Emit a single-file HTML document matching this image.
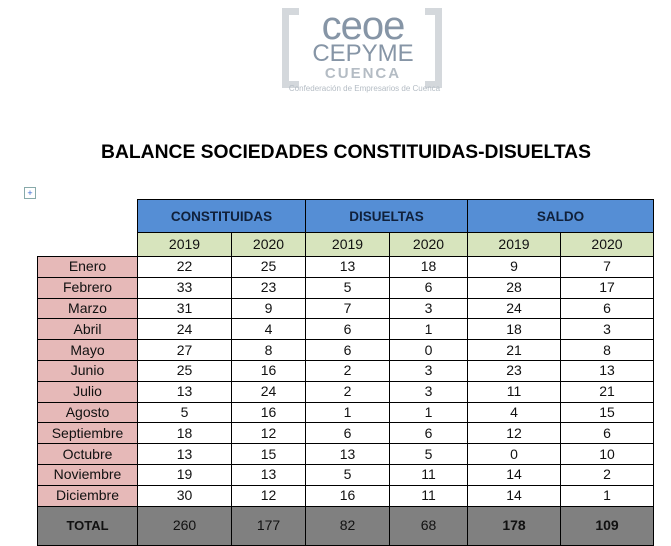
<!DOCTYPE html>
<html><head><meta charset="utf-8"><style>
body{margin:0;width:671px;height:546px;background:#fff;position:relative;overflow:hidden;font-family:"Liberation Sans",Arial,sans-serif}
.logo{position:absolute;left:282px;top:4px;width:160px;height:86px}
.br{position:absolute;border:7px solid #d4d8dc;width:10px;height:66px;top:4px}
h1{position:absolute;left:0;width:692px;top:142px;margin:0;text-align:center;font-size:19.3px;font-weight:bold;color:#000}
table{position:absolute;left:37px;top:199px;border-collapse:collapse;table-layout:fixed}
td{border:1px solid #000;text-align:center;font-size:14px;padding:0;height:19.8px;line-height:19px;color:#111}
td.m{background:#e6b9b8}
td.h{background:#558ed5;font-weight:bold;height:32px;font-size:13.5px;color:#10203a}
td.y{background:#d7e4bd;height:23px}
td.e{border:none;background:none}
tr.t td{background:#808080;height:38px}
.mv{position:absolute;left:24px;top:187px;width:10px;height:10px;border:1px solid #8aa;font-size:9px;line-height:10px;text-align:center;color:#36c}
</style></head><body>
<div class="logo">
<div class="br" style="left:0;border-right:none"></div>
<div class="br" style="right:0;border-left:none"></div>
<div style="position:absolute;left:22px;top:2px;width:118px;text-align:center;font-size:40px;line-height:40px;color:#8695a6;letter-spacing:-1px">ceoe</div>
<div style="position:absolute;left:18px;top:38px;width:126px;text-align:center;font-size:24px;line-height:24px;color:#8695a6">CEPYME</div>
<div style="position:absolute;left:18px;top:62px;width:126px;text-align:center;font-size:15px;font-weight:bold;line-height:16px;color:#b4bcc4;letter-spacing:2px">CUENCA</div>
<div style="position:absolute;left:0;top:80px;width:165px;text-align:center;font-size:8px;color:#b4bcc4;white-space:nowrap">Confederación de Empresarios de Cuenca</div>
</div>
<h1>BALANCE SOCIEDADES CONSTITUIDAS-DISUELTAS</h1>
<div class="mv">+</div>
<table>
<colgroup><col style="width:100px"><col style="width:94px"><col style="width:74px"><col style="width:84px"><col style="width:78px"><col style="width:93px"><col style="width:93px"></colgroup>
<tr><td class="e"></td><td class="h" colspan="2">CONSTITUIDAS</td><td class="h" colspan="2">DISUELTAS</td><td class="h" colspan="2">SALDO</td></tr>
<tr><td class="e"></td><td class="y">2019</td><td class="y">2020</td><td class="y">2019</td><td class="y">2020</td><td class="y">2019</td><td class="y">2020</td></tr>
<tr><td class="m">Enero</td><td>22</td><td>25</td><td>13</td><td>18</td><td>9</td><td>7</td></tr>
<tr><td class="m">Febrero</td><td>33</td><td>23</td><td>5</td><td>6</td><td>28</td><td>17</td></tr>
<tr><td class="m">Marzo</td><td>31</td><td>9</td><td>7</td><td>3</td><td>24</td><td>6</td></tr>
<tr><td class="m">Abril</td><td>24</td><td>4</td><td>6</td><td>1</td><td>18</td><td>3</td></tr>
<tr><td class="m">Mayo</td><td>27</td><td>8</td><td>6</td><td>0</td><td>21</td><td>8</td></tr>
<tr><td class="m">Junio</td><td>25</td><td>16</td><td>2</td><td>3</td><td>23</td><td>13</td></tr>
<tr><td class="m">Julio</td><td>13</td><td>24</td><td>2</td><td>3</td><td>11</td><td>21</td></tr>
<tr><td class="m">Agosto</td><td>5</td><td>16</td><td>1</td><td>1</td><td>4</td><td>15</td></tr>
<tr><td class="m">Septiembre</td><td>18</td><td>12</td><td>6</td><td>6</td><td>12</td><td>6</td></tr>
<tr><td class="m">Octubre</td><td>13</td><td>15</td><td>13</td><td>5</td><td>0</td><td>10</td></tr>
<tr><td class="m">Noviembre</td><td>19</td><td>13</td><td>5</td><td>11</td><td>14</td><td>2</td></tr>
<tr><td class="m">Diciembre</td><td>30</td><td>12</td><td>16</td><td>11</td><td>14</td><td>1</td></tr>
<tr class="t"><td style="font-weight:bold;font-size:13px">TOTAL</td><td>260</td><td>177</td><td>82</td><td>68</td><td style="font-weight:bold">178</td><td style="font-weight:bold">109</td></tr>
</table>
</body></html>
